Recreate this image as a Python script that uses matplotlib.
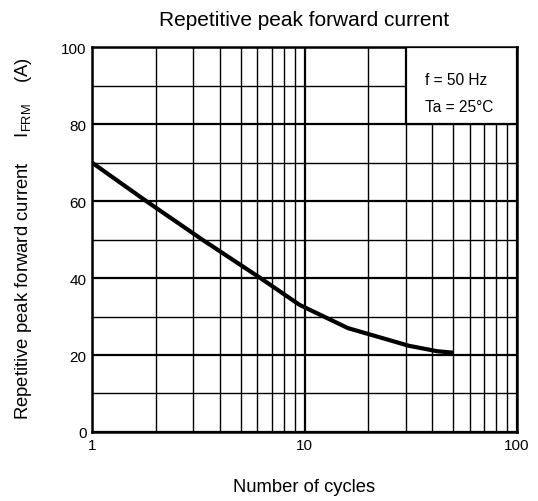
import matplotlib
matplotlib.use("Agg")
import matplotlib.pyplot as plt
from matplotlib.patches import Rectangle
from matplotlib.ticker import FixedLocator, NullFormatter

plt.rcParams['font.family'] = ['Liberation Sans', 'DejaVu Sans']

cycles = [1, 1.8, 3.3, 6.2, 9.5, 16, 31, 42, 50]
current = [70, 60, 50, 40, 33, 27, 22.4, 21.0, 20.6]

x_ticks = [1, 10, 100]
x_ticklabels = ["1", "10", "100"]
y_ticks = [0, 20, 40, 60, 80, 100]
y_minor = [10, 30, 50, 70, 90]
x_minor = [2, 3, 4, 5, 6, 7, 8, 9, 20, 30, 40, 50, 60, 70, 80, 90]

fig = plt.figure(figsize=(5.38, 5.02), dpi=100)
ax = fig.add_axes([0.171, 0.1375, 0.790, 0.7665])
ax.set_xscale('log')
ax.set_xlim(1, 100)
ax.set_ylim(0, 100)

ax.xaxis.set_major_locator(FixedLocator(x_ticks))
ax.set_xticklabels(x_ticklabels)
ax.xaxis.set_minor_locator(FixedLocator(x_minor))
ax.xaxis.set_minor_formatter(NullFormatter())
ax.set_yticks(y_ticks)
ax.yaxis.set_minor_locator(FixedLocator(y_minor))

ax.grid(True, which='major', color='black', linewidth=1.6, zorder=1)
ax.grid(True, which='minor', color='black', linewidth=1.0, zorder=1)
ax.set_axisbelow(True)
for s in ax.spines.values():
    s.set_linewidth(1.8)
ax.tick_params(which='both', length=0, labelsize=11, pad=4)

ax.plot(cycles, current, color='black', linewidth=3.0, zorder=3, solid_capstyle='butt')

box = Rectangle((30, 80), 70, 20, facecolor='white', edgecolor='black', linewidth=1.6, zorder=4)
ax.add_patch(box)
ax.text(37, 91.7, "f = 50 Hz", fontsize=11.2, zorder=5, va='center')
ax.text(37, 84.7, "Ta = 25°C", fontsize=11.2, zorder=5, va='center')

fig.text(304 / 538, 1 - 20 / 502, "Repetitive peak forward current", fontsize=15,
         ha='center', va='center')
fig.text(304 / 538, 1 - 488 / 502, "Number of cycles", fontsize=13.2,
         ha='center', va='center')
fig.text(23.5 / 538, 1 - 239 / 502,
         "Repetitive peak forward current     I$_{\\mathregular{FRM}}$    (A)",
         fontsize=13.3, rotation=90, ha='center', va='center')

fig.savefig("out.png", dpi=100)
